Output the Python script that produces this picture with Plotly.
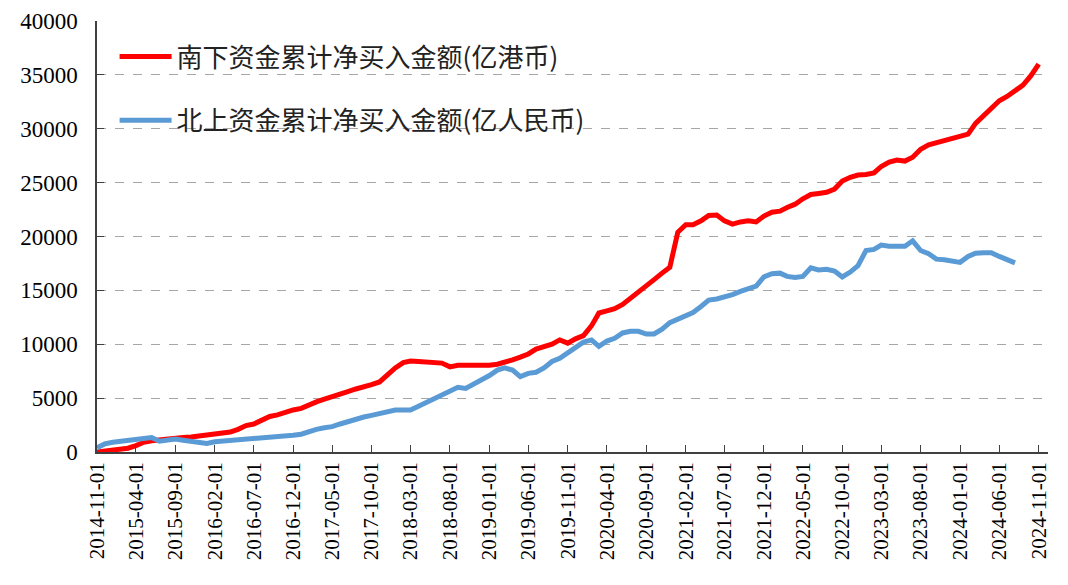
import pandas as pd
import plotly.graph_objects as go

dates = pd.date_range("2014-11-01", periods=121, freq="MS")

south_name = "南下资金累计净买入金额(亿港币)"
north_name = "北上资金累计净买入金额(亿人民币)"

south = [
    0, 100, 250, 300, 350, 600, 900, 1050, 1150, 1250,
    1300, 1350, 1400, 1500, 1600, 1700, 1800, 1850, 2100, 2450,
    2600, 2900, 3300, 3450, 3700, 3900, 4050, 4400, 4650, 4900,
    5100, 5350, 5600, 5850, 6000, 6250, 6500, 7200, 7800, 8300,
    8450, 8400, 8350, 8300, 8250, 7900, 8050, 8050, 8050, 7950,
    8050, 8150, 8300, 8550, 8800, 9100, 9550, 9750, 10000, 10400,
    10100, 10500, 10800, 11700, 12900, 13100, 13300, 13700, 14300, 14900,
    15400, 16000, 16600, 17150, 20400, 21100, 21100, 21450, 21950, 22000,
    21450, 21150, 21350, 21450, 21350, 21900, 22250, 22350, 22700, 23000,
    23500, 23900, 24000, 24100, 24400, 25150, 25500, 25700, 25750, 25900,
    26500, 26900, 27100, 27000, 27350, 28100, 28500, 28700, 28850, 29000,
    29200, 29500, 30500, 31250, 32000, 32600, 33000, 33500, 34050, 34900,
    36000,
]

north = [
    400, 750, 900, 1000, 1100, 1200, 1250, 1350, 1000, 1150,
    1200, 1100, 1000, 850, 800, 950, 1000, 1050, 1100, 1150,
    1200, 1350, 1400, 1400, 1450, 1550, 1650, 1950, 2100, 2250,
    2350, 2600, 2850, 3100, 3250, 3400, 3550, 3650, 3900, 3900,
    3900, 4250, 4600, 4950, 5350, 5600, 6000, 5900, 6300, 6600,
    7100, 7600, 7800, 7600, 7000, 7300, 7400, 7800, 8400, 8700,
    9200, 9700, 10200, 10400, 9800, 10300, 10550, 11050, 11200, 11200,
    10950, 10950, 11400, 12000, 12300, 12600, 12950, 13500, 14100, 14200,
    14350, 14600, 14900, 15200, 15400, 16250, 16550, 16600, 16300, 16200,
    16300, 17100, 16900, 16950, 16800, 16250, 16700, 17300, 18700, 18800,
    19200, 19100, 19050, 19100, 19600, 18700, 18400, 17900, 17850, 17700,
    17600, 18150, 18450, 18500, 18500, 18150, 17900, 17550,
]

tick_dates = dates[::5]
tick_text = [d.strftime("%Y-%m-%d") for d in tick_dates]
y_ticks = list(range(0, 40001, 5000))

fig = go.Figure()
fig.add_trace(go.Scatter(
    x=dates[:len(south)], y=south, mode="lines", name=south_name,
    line=dict(color="#FF0000", width=5), legendgroup="a",
))
fig.add_trace(go.Scatter(
    x=dates[:len(north)], y=north, mode="lines", name=north_name,
    line=dict(color="#5B9BD5", width=5), legendgroup="b",
))

# page body has an 8px margin, so the figure is sized to fit the window
fig.update_layout(
    width=1052, height=569,
    margin=dict(l=89, r=12, t=13, b=125),
    plot_bgcolor="white", paper_bgcolor="white",
    font=dict(family="Liberation Serif", size=21, color="#000000"),
    showlegend=True,
    legend=dict(
        x=0.0185, y=0.972, xanchor="left", yanchor="top",
        font=dict(family="Noto Sans CJK SC", size=26, color="#222222"),
        bgcolor="rgba(0,0,0,0)", tracegroupgap=27, traceorder="grouped",
        itemwidth=52,
    ),
)
fig.update_xaxes(
    type="date", automargin=False,
    range=[dates[0], pd.Timestamp("2024-12-07")],
    tickmode="array", tickvals=tick_dates, ticktext=tick_text,
    tickangle=-90, ticks="inside", ticklen=7, tickcolor="#404040",
    showline=True, linecolor="#404040", linewidth=1.5,
    showgrid=False, zeroline=False,
    tickfont=dict(family="Liberation Serif", size=21, color="#000000"),
)
fig.update_yaxes(
    automargin=False,
    range=[0, 40000], tickmode="array", tickvals=y_ticks,
    ticktext=[str(v) for v in y_ticks],
    ticks="inside", ticklen=7, tickcolor="#404040",
    showline=True, linecolor="#404040", linewidth=1.5,
    showgrid=True, gridcolor="#A6A6A6", griddash="dash", gridwidth=1,
    zeroline=False, ticklabelstandoff=13,
    tickfont=dict(family="Liberation Serif", size=23, color="#000000"),
)

fig.write_html("out.html")
